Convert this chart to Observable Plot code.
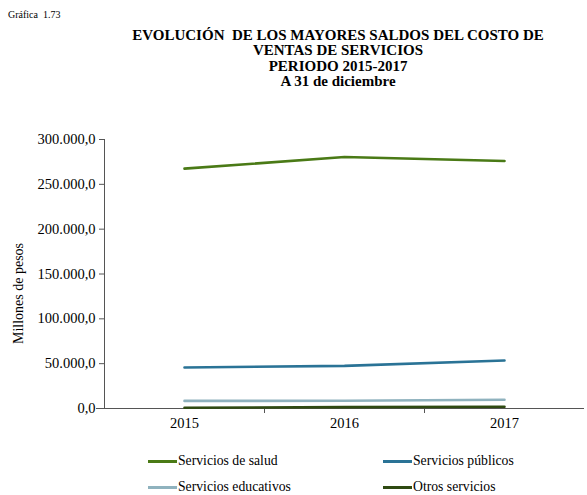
<!DOCTYPE html>
<html>
<head>
<meta charset="utf-8">
<script src="https://cdn.jsdelivr.net/npm/d3@7"></script>
<script src="https://cdn.jsdelivr.net/npm/@observablehq/plot@0.6"></script>
<style>
  body { margin: 0; background: #fff; font-family: "Liberation Serif", "Times New Roman", serif; color: #000; }
  #wrap { position: relative; width: 587px; height: 495px; }
  #head { position: relative; height: 100px; }
  #num { position: absolute; left: 8px; top: 9px; font-size: 10px; }
  #title { position: absolute; left: 118px; width: 440px; top: 28px; text-align: center; font-weight: bold; font-size: 15px; line-height: 15.3px; }
  #chart { position: absolute; left: 0; top: 100px; }
  .leg { position: absolute; font-size: 13.7px; display: flex; align-items: center; }
  .sw { display: inline-block; width: 29px; height: 0; border-top: 3px solid; margin-right: 1px; }
</style>
</head>
<body>
<div id="wrap">
  <div id="head">
    <div id="num">Gráfica &nbsp;1.73</div>
    <div id="title">EVOLUCIÓN &nbsp;DE LOS MAYORES SALDOS DEL COSTO DE<br>VENTAS DE SERVICIOS<br>PERIODO 2015-2017<br>A 31 de diciembre</div>
  </div>
  <div id="chart"></div>
  <div id="legend"></div>
</div>
<script>
const years = [2015, 2016, 2017];
const series = ["Servicios de salud", "Servicios públicos", "Servicios educativos", "Otros servicios"];
const salud = [267500, 280500, 276000];
const publicos = [45700, 47500, 53500];
const educativos = [8500, 8600, 9800];
const otros = [900, 1500, 1900];
const colors = ["#4a7a16", "#2a7396", "#8fb2be", "#2f4a12"];
const yTicks = [0, 50000, 100000, 150000, 200000, 250000, 300000];

const values = [salud, publicos, educativos, otros];
const data = [];
series.forEach((s, i) => years.forEach((y, j) => data.push({serie: s, year: y, value: values[i][j]})));

const loc = d3.formatLocale({decimal: ",", thousands: ".", grouping: [3], currency: ["", ""]});
const fmt = loc.format(",.1f");

const plot = Plot.plot({
  width: 587,
  height: 335,
  marginLeft: 104,
  marginRight: 3,
  marginTop: 39,
  marginBottom: 27,
  style: {fontFamily: "Liberation Serif, Times New Roman, serif", fontSize: "14.5px", color: "#000", background: "transparent"},
  x: {domain: [2014.5, 2017.5]},
  y: {domain: [0, 300000]},
  color: {domain: series, range: colors},
  marks: [
    Plot.ruleX([2014.5], {y1: 0, y2: 300000, stroke: "#555", strokeWidth: 1}),
    Plot.axisY({ticks: yTicks, tickFormat: fmt, tickSize: 5, tickPadding: 4, stroke: "#555", fontSize: 14.5, label: null}),
    Plot.text(["Millones de pesos"], {frameAnchor: "left", textAnchor: "middle", dx: -86, dy: 19.5, rotate: -90, fontSize: 14}),
    Plot.ruleY([0], {x1: 2014.45, x2: 2017.5, stroke: "#555", strokeWidth: 1}),
    Plot.axisX({ticks: years, tickFormat: d => String(d), tickSize: 0, tickPadding: 9, fontSize: 14.5, label: null}),
    Plot.axisX({ticks: [2015.5, 2016.5], tickFormat: () => "", tickSize: 5, stroke: "#555", label: null}),
    Plot.line(data, {x: "year", y: "value", z: "serie", stroke: "serie", strokeWidth: 2.6})
  ]
});
document.getElementById("chart").appendChild(plot);

const legPos = [[148, 453], [383, 453], [148, 479], [383, 479]];
const legend = document.getElementById("legend");
series.forEach((s, i) => {
  const d = document.createElement("div");
  d.className = "leg";
  d.style.left = legPos[i][0] + "px";
  d.style.top = legPos[i][1] + "px";
  const sw = document.createElement("span");
  sw.className = "sw";
  sw.style.borderTopColor = colors[i];
  d.appendChild(sw);
  d.appendChild(document.createTextNode(s));
  legend.appendChild(d);
});
</script>
</body>
</html>
